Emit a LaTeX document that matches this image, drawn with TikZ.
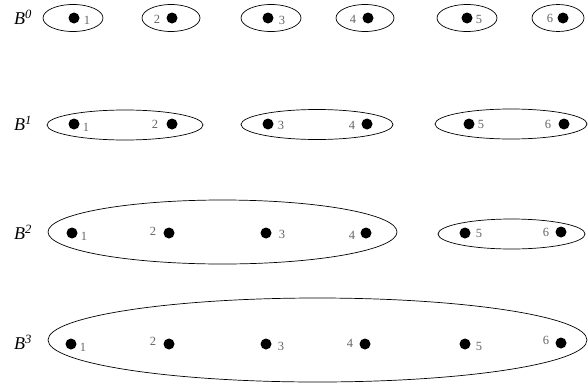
\documentclass[tikz,border=0pt]{standalone}
\usepackage{fontspec}
\setmainfont{Liberation Serif}
\begin{document}
\begin{tikzpicture}[x=1pt,y=-1pt,
  dotnode/.style={circle,fill=black,inner sep=0pt,minimum width=10pt,minimum height=11pt},
  num/.style={text=black!60,font=\fontsize{12.5}{12.5}\selectfont,inner sep=0pt},
  lvl/.style={font=\fontsize{18}{18}\selectfont\itshape,inner sep=0pt},
  ring/.style={draw=black,line width=0.7pt}]
\useasboundingbox (0,0) rectangle (588,383);
% level labels
\node[lvl] (l0) at (23,17) {B\textsuperscript{0}};
\node[lvl] (l1) at (23,123) {B\textsuperscript{1}};
\node[lvl] (l2) at (23,232) {B\textsuperscript{2}};
\node[lvl] (l3) at (23,342) {B\textsuperscript{3}};
% row 0
\draw[ring] (73,18) ellipse (30 and 13.5);
\draw[ring] (171,18) ellipse (29 and 13.5);
\draw[ring] (271,18) ellipse (30 and 13.5);
\draw[ring] (365,18) ellipse (29 and 13.5);
\draw[ring] (467,18) ellipse (30 and 13.5);
\draw[ring] (558,18) ellipse (26 and 13.5);
\node[dotnode] (a1) at (74,18) {}; \node[num] at (87,20) {1};
\node[dotnode] (a2) at (172,18) {}; \node[num] at (157,19) {2};
\node[dotnode] (a3) at (268,18) {}; \node[num] at (282,20) {3};
\node[dotnode] (a4) at (368,18) {}; \node[num] at (353,19) {4};
\node[dotnode] (a5) at (467,18) {}; \node[num] at (479,19) {5};
\node[dotnode] (a6) at (563,18) {}; \node[num] at (550,18) {6};
% row 1
\draw[ring] (125,125) ellipse (78 and 15);
\draw[ring] (317,124.5) ellipse (76 and 15);
\draw[ring] (511,124) ellipse (76 and 15);
\node[dotnode] (b1) at (74,124) {}; \node[num] at (86,127) {1};
\node[dotnode] (b2) at (172,124) {}; \node[num] at (155,124) {2};
\node[dotnode] (b3) at (268,124) {}; \node[num] at (281,125) {3};
\node[dotnode] (b4) at (367,124) {}; \node[num] at (352,125) {4};
\node[dotnode] (b5) at (469,124) {}; \node[num] at (481,124) {5};
\node[dotnode] (b6) at (564,124) {}; \node[num] at (548,124) {6};
% row 2
\draw[ring] (222.5,232) ellipse (174.5 and 32);
\draw[ring] (511.5,234) ellipse (73.5 and 15);
\node[dotnode] (c1) at (72,233) {}; \node[num] at (84,236) {1};
\node[dotnode] (c2) at (169,233) {}; \node[num] at (153,231) {2};
\node[dotnode] (c3) at (266,233) {}; \node[num] at (282,234) {3};
\node[dotnode] (c4) at (366,233) {}; \node[num] at (352,235) {4};
\node[dotnode] (c5) at (465,233) {}; \node[num] at (479,233) {5};
\node[dotnode] (c6) at (561,232) {}; \node[num] at (546,232) {6};
% row 3
\draw[ring] (317.5,340) ellipse (269.5 and 42);
\node[dotnode] (d1) at (71,344) {}; \node[num] at (83,347) {1};
\node[dotnode] (d2) at (169,344) {}; \node[num] at (153,341) {2};
\node[dotnode] (d3) at (266,344) {}; \node[num] at (281,346) {3};
\node[dotnode] (d4) at (365,344) {}; \node[num] at (350,343) {4};
\node[dotnode] (d5) at (465,344) {}; \node[num] at (479,346) {5};
\node[dotnode] (d6) at (561,343) {}; \node[num] at (546,340) {6};
\end{tikzpicture}
\end{document}
